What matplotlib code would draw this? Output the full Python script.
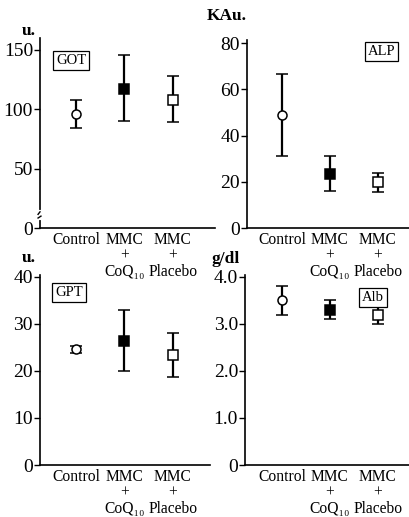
import matplotlib
matplotlib.use("Agg")
import matplotlib.pyplot as plt

plt.rcParams['font.family'] = ['Liberation Serif', 'DejaVu Serif']

groups = ["Control", "MMC\n+\nCoQ\u2081\u2080", "MMC\n+\nPlacebo"]
xpos = [0, 1, 2]

got_mean = [96, 117, 108]
got_lo = [84, 90, 89]
got_hi = [108, 146, 128]

alp_mean = [49, 23.5, 19.8]
alp_lo = [31, 16, 15.5]
alp_hi = [66.5, 31, 24]

gpt_mean = [24.6, 26.4, 23.4]
gpt_lo = [23.8, 19.9, 18.8]
gpt_hi = [25.4, 32.9, 28]

alb_mean = [3.5, 3.3, 3.2]
alb_lo = [3.2, 3.1, 3.0]
alb_hi = [3.8, 3.5, 3.4]

markers = [('o', 'white'), ('s', 'black'), ('s', 'white')]

fig = plt.figure(figsize=(4.1, 5.17), dpi=100)
W, H = 410.0, 517.0


def make_ax(left, right, top, bottom):
    return fig.add_axes([left / W, 1 - bottom / H, (right - left) / W, (bottom - top) / H])


ax_got = make_ax(40, 215, 38, 228)
ax_alp = make_ax(247, 410, 40, 228)
ax_gpt = make_ax(40, 210, 275, 465)
ax_alb = make_ax(245, 410, 275, 465)

panels = [
    (ax_got, got_mean, got_lo, got_hi, (0, 160), [0, 50, 100, 150], ["0", "50", "100", "150"],
     (-0.74, 2.87), "GOT", (-0.1, 141)),
    (ax_alp, alp_mean, alp_lo, alp_hi, (0, 81.3), [0, 20, 40, 60, 80], ["0", "20", "40", "60", "80"],
     (-0.73, 2.67), "ALP", (2.08, 76.5)),
    (ax_gpt, gpt_mean, gpt_lo, gpt_hi, (0, 40.4), [0, 10, 20, 30, 40], ["0", "10", "20", "30", "40"],
     (-0.74, 2.77), "GPT", (-0.14, 36.6)),
    (ax_alb, alb_mean, alb_lo, alb_hi, (0, 4.04), [0, 1, 2, 3, 4], ["0", "1.0", "2.0", "3.0", "4.0"],
     (-0.77, 2.67), "Alb", (1.9, 3.56)),
]

for ax, mean, lo, hi, ylim, yt, ytl, xlim, name, boxpos in panels:
    for x, m, l, h, (mk, fc) in zip(xpos, mean, lo, hi, markers):
        ax.errorbar([x], [m], yerr=[[m - l], [h - m]], fmt=mk, color='black',
                    mfc=fc, mec='black', ms=6.5, mew=1.1, elinewidth=1.6,
                    capsize=4, capthick=1.6, zorder=3)
    ax.set_ylim(*ylim)
    ax.set_xlim(*xlim)
    ax.set_yticks(yt)
    ax.set_yticklabels(ytl, fontsize=14)
    ax.tick_params(axis='y', direction='out', length=4, width=1, pad=1)
    ax.set_xticks([])
    for s in ['top', 'right']:
        ax.spines[s].set_visible(False)
    for s in ['left', 'bottom']:
        ax.spines[s].set_linewidth(1.2)
    ax.patch.set_alpha(0)
    # category labels under the axis
    for x, g in zip(xpos, groups):
        ax.annotate(g, xy=(x, 0), xycoords=('data', 'axes fraction'),
                    xytext=(0, -3.0), textcoords='offset points',
                    ha='center', va='top', fontsize=11.2, linespacing=0.98,
                    annotation_clip=False)
    ax.text(boxpos[0], boxpos[1], name, ha='center', va='center', fontsize=10.5,
            bbox=dict(boxstyle='square,pad=0.2', fc='white', ec='black', lw=0.9))

# axis break on GOT
ax_got.plot([0, 0], [8.4, 13.6], transform=ax_got.get_yaxis_transform(),
            color='white', lw=3, clip_on=False, zorder=5)
ax_got.plot([-0.74, -0.78], [13.6, 11.5], color='black', lw=1, clip_on=False, zorder=6)
ax_got.plot([-0.78, -0.72], [8.4, 10.0], color='black', lw=1, clip_on=False, zorder=6)

# unit labels
fig.text(29 / W, 1 - 31 / H, "u.", ha='center', va='center', fontsize=12.5, weight='bold')
fig.text(227 / W, 1 - 16 / H, "KAu.", ha='center', va='center', fontsize=12.5, weight='bold')
fig.text(29 / W, 1 - 258 / H, "u.", ha='center', va='center', fontsize=12.5, weight='bold')
fig.text(226 / W, 1 - 259 / H, "g/dl", ha='center', va='center', fontsize=12.5, weight='bold')

fig.savefig("out.png", dpi=100)
